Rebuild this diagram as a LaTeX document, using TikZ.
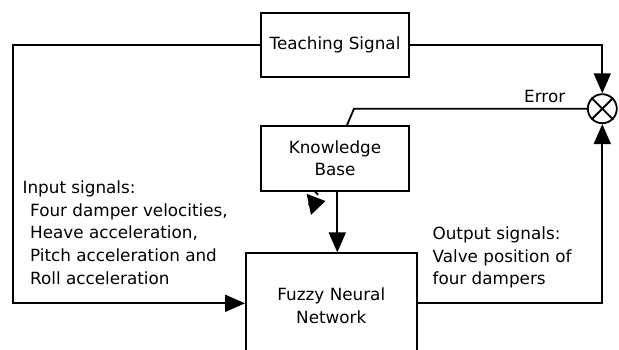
\documentclass[tikz,border=0pt]{standalone}
\usepackage{fontspec}
\setmainfont{DejaVu Sans}
\usetikzlibrary{arrows.meta}
\begin{document}
\begin{tikzpicture}[x=1pt,y=-1pt,line width=1.8pt,
	every node/.style={font=\fontsize{16.8}{22.6}\selectfont},
	blk/.style={draw,rectangle,minimum width=148.6pt,minimum height=64.6pt,inner sep=0pt,align=center},
	arr/.style={-{Triangle[length=20pt,width=17pt]}},
	lbl/.style={anchor=north west,inner sep=0pt,align=left}]
	\useasboundingbox (0,0) rectangle (619,349);
	\clip (0,0) rectangle (619,349);
	\node [blk] (teach) at (335,45) {Teaching Signal};
	\node [blk] (know) at (335,158.3) {Knowledge\\Base};
	\node [blk,minimum width=170.7pt,minimum height=105.4pt] (fnn) at (331.3,306) {Fuzzy Neural\\Network};
	\node [draw,circle,minimum size=29pt,inner sep=0pt] (sum) at (602.3,108.7) {};
	\draw (sum.north west) -- (sum.south east);
	\draw (sum.north east) -- (sum.south west);
	\coordinate (inL) at (13.3,303.3);
	\coordinate (errK) at (354,108.7);
	\coordinate (stubB) at (308.3,204.5);
	\coordinate (stubT) at (325.5,201);
	\draw [arr] (teach.west) -| (inL) -- (inL -| fnn.west);
	\draw [arr] (teach.east) -| (sum.north);
	\draw [arr] ([yshift=2.7pt]fnn.east) -| (sum.south);
	\draw (sum.west) -- (errK) -- ([xshift=12pt]know.north);
	\draw [arr] ([xshift=2.3pt]know.south) -- ([xshift=2.3pt]know.south |- fnn.north);
	\draw ([xshift=-20pt]know.south) -- ++(3,3.3);
	\draw [-{Triangle[length=17pt,width=21pt]}] (stubB) -- (stubT);
	\node [inner sep=0pt] (err) at (544.7,96) {Error};
	\node [lbl] (inp) at (21.7,180) {Input signals:\\
		\hspace*{7.6pt}Four damper velocities,\\
		\hspace*{7.6pt}Heave acceleration,\\
		\hspace*{7.6pt}Pitch acceleration and\\
		\hspace*{7.6pt}Roll acceleration};
	\node [lbl] (outp) at (431.7,226) {Output signals:\\Valve position of\\four dampers};
\end{tikzpicture}
\end{document}
